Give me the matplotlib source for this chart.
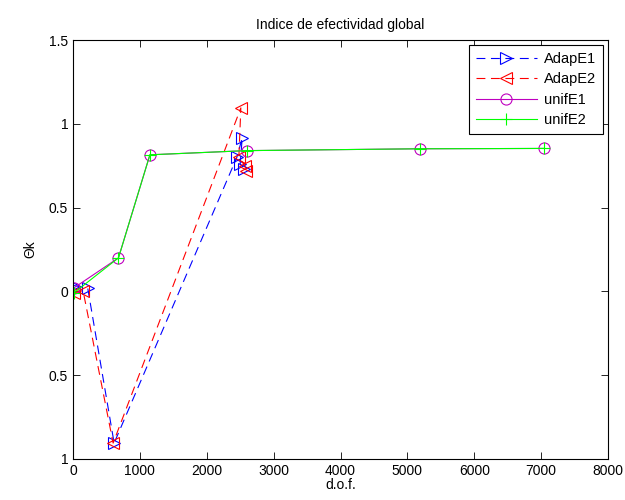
import numpy as np
import matplotlib
matplotlib.use('Agg')
import matplotlib.pyplot as plt

plt.rcParams['font.family'] = ['Liberation Sans', 'DejaVu Sans']

# dof / index values
adap1_dof = [15, 220, 615, 2450, 2530, 2500, 2560]
adap1_val = [0.035, 0.02, -0.905, 0.80, 0.915, 0.76, 0.73]

adap2_dof = [10, 150, 600, 2510, 2480, 2570, 2590]
adap2_val = [-0.01, 0.005, -0.905, 1.095, 0.80, 0.75, 0.72]

unif_dof = [10, 680, 1150, 2600, 5190, 7040]
unif1_val = [0.02, 0.20, 0.815, 0.84, 0.851, 0.853]
unif2_val = [-0.01, 0.20, 0.815, 0.84, 0.851, 0.853]

xticks = np.arange(0, 8001, 1000)
yticks = [-1, -0.5, 0, 0.5, 1, 1.5]
yticklabels = ['1', '0.5', '0', '0.5', '1', '1.5']

fig = plt.figure(figsize=(6.25, 5), dpi=100)
ax = fig.add_axes([0.1168, 0.082, 0.856, 0.838])

ax.plot(adap1_dof, adap1_val, '--', color='b', marker='>', mfc='none', ms=8, lw=0.8,
        mew=0.8, dashes=(8, 5), label='AdapE1')
ax.plot(adap2_dof, adap2_val, '--', color='r', marker='<', mfc='none', ms=8, lw=0.8,
        mew=0.8, dashes=(8, 5), label='AdapE2')
ax.plot(unif_dof, unif1_val, '-', color='m', marker='o', mfc='none', ms=8, lw=0.8,
        mew=0.8, label='unifE1')
ax.plot(unif_dof, unif2_val, '-', color='#00ff00', marker='+', ms=8, lw=0.8,
        mew=0.8, label='unifE2')

ax.set_xlim(0, 8000)
ax.set_ylim(-1, 1.5)
ax.set_xticks(xticks)
ax.set_yticks(yticks)
ax.set_yticklabels(yticklabels)
ax.tick_params(direction='in', top=True, right=True, labelsize=10, length=5, width=0.6)
for s in ax.spines.values():
    s.set_linewidth(0.8)

ax.set_xlabel('d.o.f.', fontsize=10, labelpad=0)
ax.set_ylabel('Θk', fontsize=10, labelpad=8)
ax.set_title('Indice de efectividad global', fontsize=10, pad=8)

leg = ax.legend(loc='upper right', fontsize=10.5, handlelength=4.2, fancybox=False,
                edgecolor='black', framealpha=1, borderaxespad=0.35, labelspacing=0.45,
                handletextpad=0.5, borderpad=0.45)
leg.get_frame().set_linewidth(0.8)

fig.savefig('out.png', dpi=100)
